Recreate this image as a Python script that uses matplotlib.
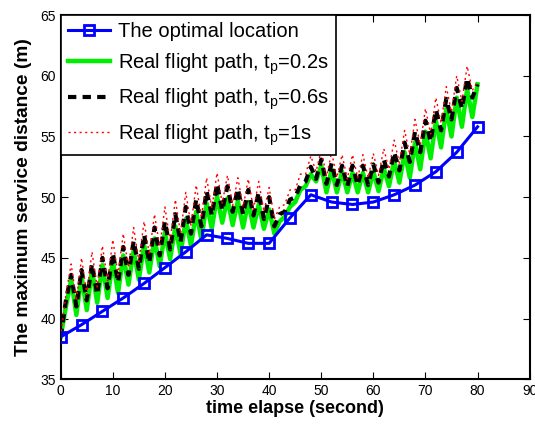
import matplotlib.pyplot as plt
import numpy as np

plt.rcParams["font.family"] = ["Liberation Sans", "DejaVu Sans"]

# Optimal location, one point every 4 seconds
opt_time = [0, 4, 8, 12, 16, 20, 24, 28, 32, 36, 40, 44, 48, 52, 56, 60, 64, 68, 72, 76, 80]
opt_dist = [38.5, 39.5, 40.6, 41.7, 42.9, 44.2, 45.5, 46.9, 46.6, 46.2, 46.2, 48.3,
            50.2, 49.6, 49.4, 49.6, 50.2, 51.0, 52.1, 53.7, 55.8]

# Real flight paths, read once per second
path_time = list(range(0, 81))
path_02 = [38.5, 41.0, 43.2, 40.3, 43.5, 40.7, 44.0, 41.3, 44.4, 41.7,
           44.8, 42.1, 45.2, 42.8, 45.6, 43.2, 46.1, 43.8, 46.6, 44.3,
           47.1, 44.9, 47.6, 45.3, 48.2, 46.0, 48.8, 46.5, 49.5, 47.4,
           50.1, 47.9, 49.9, 47.7, 49.7, 47.5, 49.6, 47.5, 49.4, 47.4,
           49.0, 47.0, 48.0, 48.4, 49.2, 49.6, 50.6, 50.9, 51.9, 51.3,
           52.6, 50.4, 52.3, 50.4, 52.1, 50.4, 52.0, 50.4, 52.0, 50.4,
           52.1, 50.5, 52.4, 50.9, 53.0, 51.2, 53.7, 51.6, 54.5, 52.3,
           55.4, 53.2, 56.3, 54.1, 57.3, 55.0, 58.2, 55.8, 58.9, 56.6,
           59.3]
path_06 = [38.5, 41.5, 43.6, 41.0, 44.0, 41.5, 44.5, 42.0, 45.0, 42.5,
           45.4, 43.0, 45.9, 43.6, 46.4, 44.1, 46.9, 44.6, 47.5, 45.2,
           48.0, 45.7, 48.6, 46.3, 49.2, 47.0, 49.8, 47.6, 50.5, 48.5,
           51.1, 48.9, 50.9, 48.8, 50.7, 48.6, 50.6, 48.5, 50.4, 48.2,
           50.0, 47.6, 48.6, 48.8, 49.8, 50.0, 51.0, 51.3, 52.5, 51.5,
           53.1, 51.1, 52.8, 51.0, 52.6, 50.9, 52.6, 51.0, 52.6, 51.0,
           52.7, 51.2, 53.1, 51.7, 53.7, 52.2, 54.5, 52.9, 55.4, 53.7,
           56.3, 54.6, 57.2, 55.5, 58.1, 56.4, 59.0, 57.3, 59.8, 58.2,
           59.3]
path_1 = [38.5, 42.0, 44.5, 41.5, 45.0, 42.0, 45.5, 42.6, 46.0, 43.1,
          46.5, 43.6, 47.0, 44.2, 47.5, 44.7, 48.0, 45.3, 48.6, 45.9,
          49.2, 46.4, 49.8, 47.0, 50.4, 47.7, 51.0, 48.3, 51.6, 49.1,
          52.0, 49.5, 51.8, 49.3, 51.6, 49.2, 51.5, 49.0, 51.3, 48.8,
          50.8, 48.2, 49.2, 49.4, 50.6, 50.6, 51.9, 51.9, 53.4, 52.1,
          53.9, 51.7, 53.7, 51.6, 53.5, 51.5, 53.5, 51.6, 53.5, 51.6,
          53.6, 51.8, 54.0, 52.3, 54.7, 52.8, 55.5, 53.5, 56.4, 54.3,
          57.3, 55.2, 58.2, 56.1, 59.1, 57.0, 60.0, 57.9, 60.8, 58.8,
          59.5]

fig = plt.figure(figsize=(5.35, 4.25), dpi=100)
ax = fig.add_axes([0.1135, 0.1075, 0.8765, 0.857])

ax.plot(opt_time, opt_dist, color="blue", linewidth=2.2, marker="s",
        markersize=7, markerfacecolor="none", markeredgewidth=2,
        label="The optimal location", zorder=4)
ax.plot(path_time, path_02, color="#00ee00", linewidth=3.2,
        label=r"Real flight path, $\mathregular{t_p}$=0.2s", zorder=2)
ax.plot(path_time, path_06, color="black", linewidth=3, linestyle=(0, (2, 1.5)),
        label=r"Real flight path, $\mathregular{t_p}$=0.6s", zorder=3)
ax.plot(path_time, path_1, color="red", linewidth=1, linestyle=(0, (1.5, 2.5)),
        label=r"Real flight path, $\mathregular{t_p}$=1s", zorder=3)

ax.set_xlim(0, 90)
ax.set_ylim(35, 65)
ax.set_xticks(np.arange(0, 91, 10))
ax.set_yticks(np.arange(35, 66, 5))
ax.tick_params(direction="in", top=True, right=True, length=5, labelsize=10)
for spine in ax.spines.values():
    spine.set_linewidth(1.5)

ax.set_xlabel("time elapse (second)", fontsize=13, fontweight="bold", labelpad=1)
ax.set_ylabel("The maximum service distance (m)", fontsize=13.8, fontweight="bold", labelpad=6)

leg = ax.legend(loc="upper left", borderaxespad=0, fontsize=14.5, fancybox=False,
                edgecolor="black", framealpha=1, handlelength=2.1,
                labelspacing=0.5, handletextpad=0.4, borderpad=0.35)
leg.get_frame().set_linewidth(1.2)

fig.savefig("out.png", dpi=100)
